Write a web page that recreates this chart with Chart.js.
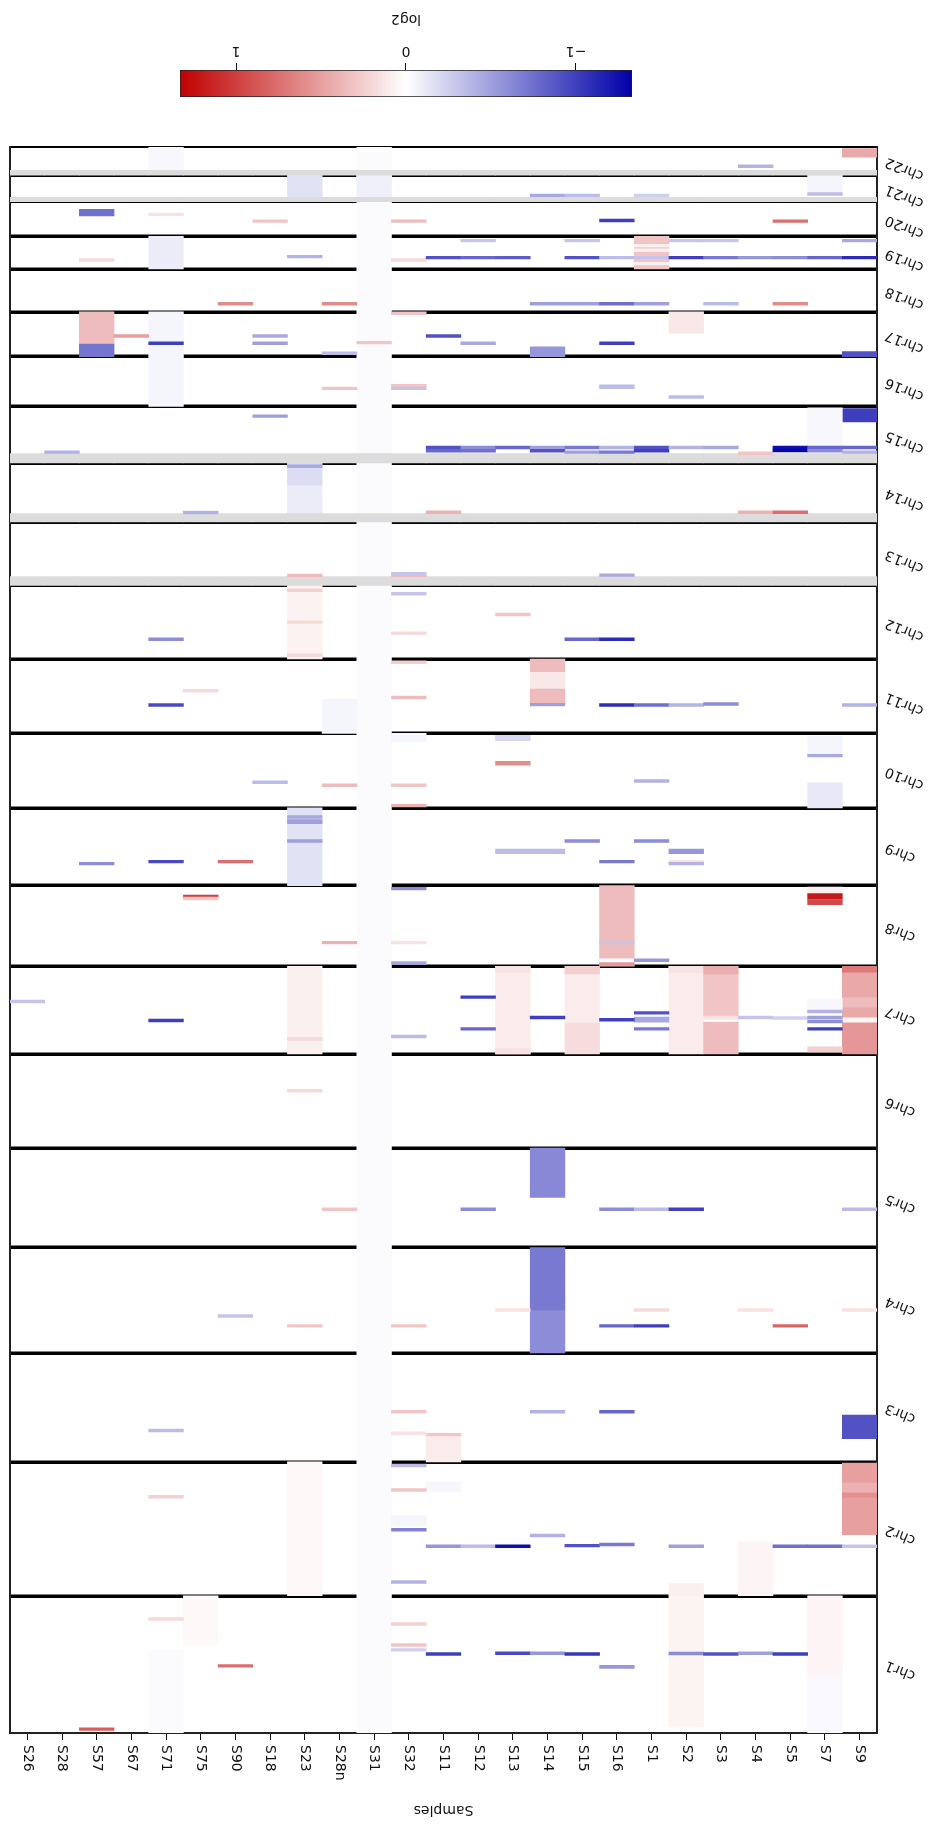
<!DOCTYPE html>
<html>
<head>
<meta charset="utf-8">
<script src="https://cdn.jsdelivr.net/npm/chart.js@4.4.1/dist/chart.umd.min.js"></script>
<style>
  html, body { margin: 0; padding: 0; background: #fff; }
  /* the reference figure is shown upside down, so the whole figure is turned */
  #figure { position: relative; width: 937px; height: 1824px; transform: rotate(180deg); background: #fff; }
  #heatmap { position: absolute; left: 0; top: 0; }
  #colorbar { position: absolute; left: 0; top: 1700px; }
</style>
</head>
<body>
<div id="figure">
  <canvas id="heatmap" width="937" height="1700"></canvas>
  <canvas id="colorbar" width="937" height="124"></canvas>
</div>
<script>
const samples = ["S26", "S28", "S57", "S67", "S71", "S75", "S90", "S18", "S23", "S28n", "S31", "S32",
  "S11", "S12", "S13", "S14", "S15", "S16", "S1", "S2", "S3", "S4", "S5", "S7", "S9"];

const chromosomes = ["chr1", "chr2", "chr3", "chr4", "chr5", "chr6", "chr7", "chr8", "chr9", "chr10", "chr11",
  "chr12", "chr13", "chr14", "chr15", "chr16", "chr17", "chr18", "chr19", "chr20", "chr21", "chr22"];

const chromLengthsMb = [249.3, 243.2, 198.0, 191.2, 180.9, 171.1, 159.1, 146.4, 141.2, 135.5, 135.0,
  133.9, 115.2, 107.3, 102.5, 90.4, 81.2, 78.1, 59.1, 63.0, 48.1, 51.3];

// faint genome-wide offset of a sample
const sampleBaseline = [["S31", -0.022]];

// broad segments: [sample, chromosome, start Mb, end Mb, log2]
const segments = [
  ["S2", 1, 11, 249.3, 0.06], ["S7", 1, 102, 249.3, 0.05], ["S7", 1, 0, 102, -0.03],
  ["S75", 1, 160, 249.3, 0.03], ["S71", 1, 0, 151, -0.02], ["S16", 1, 117.5, 123, -0.55],
  ["S23", 2, 0, 243.2, 0.04], ["S2", 2, 0, 22, 0.08], ["S4", 2, 0, 98, 0.05],
  ["S11", 2, 189, 207, -0.04], ["S32", 2, 127, 145, -0.05],
  ["S9", 2, 111, 179, 0.5], ["S9", 2, 179, 188, 0.58], ["S9", 2, 188, 206, 0.4], ["S9", 2, 206, 241, 0.5],
  ["S11", 3, 0, 47, 0.1], ["S11", 3, 47, 52, 0.3], ["S9", 3, 42, 85, -0.9],
  ["S14", 4, 0, 78, -0.6], ["S14", 4, 78, 191.2, -0.7],
  ["S14", 5, 91, 180.9, -0.62],
  ["S23", 7, 0, 159.1, 0.08], ["S13", 7, 0, 159.1, 0.1], ["S13", 7, 0, 10, 0.15], ["S13", 7, 148, 159.1, 0.15],
  ["S15", 7, 0, 57, 0.18], ["S15", 7, 57, 145, 0.1], ["S15", 7, 145, 159.1, 0.25],
  ["S2", 7, 0, 159.1, 0.1], ["S2", 7, 148, 159.1, 0.15],
  ["S3", 7, 0, 57.6, 0.35], ["S3", 7, 63, 70, 0.15], ["S3", 7, 70, 145, 0.3], ["S3", 7, 145, 159.1, 0.42],
  ["S9", 7, 0, 57.6, 0.55], ["S9", 7, 57.6, 66.6, 0.05], ["S9", 7, 66.6, 84.8, 0.45], ["S9", 7, 84.8, 103, 0.35],
  ["S9", 7, 103, 148.4, 0.45], ["S9", 7, 148.4, 159.1, 0.7],
  ["S1", 7, 57.6, 66.6, -0.45], ["S7", 7, 3.6, 12.7, 0.25], ["S7", 7, 80, 100, -0.04],
  ["S16", 8, 0, 146.4, 0.35], ["S16", 8, 1.5, 6, 0.55],
  ["S7", 8, 133, 144, 0.08], ["S7", 8, 122, 132, 1.2], ["S7", 8, 112, 121, 0.95],
  ["S23", 9, 0, 141.2, -0.15], ["S23", 9, 112.6, 119.9, -0.5],
  ["S13", 9, 58.1, 66.6, -0.35], ["S14", 9, 58.1, 66.6, -0.35], ["S2", 9, 58.1, 66.6, -0.55],
  ["S13", 10, 122, 132, -0.2], ["S13", 10, 77.5, 84.8, 0.6],
  ["S7", 10, 0, 45.4, -0.12], ["S7", 10, 96, 130, -0.05], ["S32", 10, 120, 135.5, -0.05],
  ["S14", 11, 111, 135, 0.35], ["S14", 11, 80.5, 111, 0.12], ["S14", 11, 54.5, 80.5, 0.35], ["S14", 11, 49.6, 54.5, -0.5],
  ["S28n", 11, 0, 62, -0.05],
  ["S23", 12, 0, 133.9, 0.07],
  ["S23", 14, 14, 67, -0.1], ["S23", 14, 67, 107.3, -0.18],
  ["S9", 15, 74.5, 98.6, -1.0], ["S7", 15, 29, 100, -0.04],
  ["S71", 16, 0, 90.4, -0.05], ["S16", 16, 32, 39.4, -0.35],
  ["S71", 17, 0, 81.2, -0.05], ["S57", 17, 23, 81.2, 0.35], ["S57", 17, 0, 23, -0.72],
  ["S14", 17, 0, 18, -0.55], ["S2", 17, 42, 81.2, 0.12], ["S9", 17, 0, 9, -0.9],
  ["S71", 19, 0, 59.1, -0.1], ["S1", 19, 0, 59.1, 0.3],
  ["S57", 20, 37, 49, -0.75],
  ["S23", 21, 9, 48.1, -0.15], ["S31", 21, 9, 48.1, -0.08], ["S7", 21, 17, 48.1, -0.05],
  ["S71", 22, 10, 51.3, -0.04], ["S9", 22, 33, 48.5, 0.45]
];

// focal events: [sample, chromosome, position Mb, log2]
const focal = [
  ["S57", 1, 7, 0.85], ["S71", 1, 207, 0.2], ["S90", 1, 122, 0.75], ["S32", 1, 198, 0.25], ["S32", 1, 160, 0.3],
  ["S32", 1, 151, -0.25], ["S11", 1, 143.5, -1.0], ["S13", 1, 145, -0.95], ["S14", 1, 145, -0.55],
  ["S15", 1, 143.5, -1.05], ["S2", 1, 144.5, -0.6], ["S3", 1, 143.5, -0.9], ["S4", 1, 145, -0.5], ["S5", 1, 143.5, -1.0],
  ["S71", 2, 180, 0.25], ["S32", 2, 236.7, -0.35], ["S32", 2, 192, 0.3], ["S32", 2, 120, -0.65], ["S32", 2, 25, -0.4],
  ["S11", 2, 90, -0.55], ["S12", 2, 90, -0.35], ["S13", 2, 90, -1.25], ["S14", 2, 109.5, -0.4], ["S15", 2, 91, -0.9],
  ["S16", 2, 93, -0.7], ["S2", 2, 90, -0.5], ["S5", 2, 90, -0.75], ["S7", 2, 90, -0.75], ["S9", 2, 90, -0.3],
  ["S71", 3, 57, -0.35], ["S32", 3, 91, 0.3], ["S32", 3, 52, 0.15], ["S14", 3, 91, -0.4], ["S16", 3, 91, -0.8],
  ["S90", 4, 67, -0.3], ["S23", 4, 49, 0.3], ["S32", 4, 49, 0.3], ["S13", 4, 78, 0.15], ["S16", 4, 49, -0.8],
  ["S1", 4, 49, -1.0], ["S1", 4, 78, 0.2], ["S4", 4, 78, 0.15], ["S5", 4, 49, 0.8], ["S9", 4, 78, 0.15],
  ["S28n", 5, 69.6, 0.3], ["S12", 5, 69.6, -0.6], ["S16", 5, 69.6, -0.6], ["S1", 5, 69.6, -0.35],
  ["S2", 5, 69.6, -1.0], ["S9", 5, 69.6, -0.35],
  ["S23", 6, 104, 0.2],
  ["S26", 7, 95, -0.3], ["S71", 7, 60.5, -1.0], ["S32", 7, 31.5, -0.35], ["S12", 7, 103, -1.0], ["S12", 7, 45.4, -0.8],
  ["S14", 7, 66, -1.0], ["S16", 7, 61.8, -1.0], ["S1", 7, 74.5, -0.9], ["S1", 7, 45.4, -0.7], ["S4", 7, 66, -0.3],
  ["S5", 7, 65, -0.25], ["S7", 7, 76.9, -0.4], ["S7", 7, 66, -0.5], ["S7", 7, 58.7, -0.6], ["S7", 7, 45.4, -1.0],
  ["S23", 7, 27, 0.2],
  ["S75", 8, 127, 1.0], ["S75", 8, 123, 0.3], ["S28n", 8, 43, 0.4], ["S32", 8, 141, -0.6], ["S32", 8, 43, 0.15],
  ["S32", 8, 6, -0.45], ["S16", 8, 43, -0.3], ["S16", 8, 11, 0], ["S1", 8, 11, -0.55],
  ["S57", 9, 40, -0.6], ["S71", 9, 43.6, -0.95], ["S90", 9, 43.6, 0.75], ["S23", 9, 124.8, -0.45], ["S23", 9, 81.1, -0.5],
  ["S15", 9, 81.1, -0.6], ["S16", 9, 43.6, -0.7], ["S1", 9, 81.1, -0.6], ["S2", 9, 43.6, 0.15], ["S2", 9, 40, -0.4],
  ["S18", 10, 46.6, -0.35], ["S28n", 10, 41.2, 0.35], ["S32", 10, 41.2, 0.3], ["S32", 10, 4.2, 0.4],
  ["S1", 10, 49, -0.4], ["S7", 10, 95, -0.45],
  ["S71", 11, 51.5, -0.95], ["S75", 11, 77.5, 0.2], ["S32", 11, 65, 0.35], ["S32", 11, 129, 0.25],
  ["S16", 11, 51.5, -1.1], ["S1", 11, 51.5, -0.75], ["S2", 11, 51.5, -0.4], ["S3", 11, 53.2, -0.6], ["S9", 11, 51.5, -0.4],
  ["S71", 12, 35.8, -0.6], ["S23", 12, 67, 0.2], ["S23", 12, 7, 0.2], ["S23", 12, 125, 0.25], ["S32", 12, 47, 0.2],
  ["S32", 12, 118.6, -0.3], ["S13", 12, 81, 0.3], ["S15", 12, 35.8, -0.8], ["S16", 12, 35.8, -1.1],
  ["S23", 13, 18, 0.35], ["S32", 13, 18, 0.35], ["S32", 13, 21, -0.3], ["S16", 13, 18.5, -0.45],
  ["S75", 14, 17, -0.4], ["S23", 14, 101, -0.45], ["S11", 14, 17.5, 0.4], ["S4", 14, 17.5, 0.4], ["S5", 14, 17.5, 0.75],
  ["S28", 15, 19.4, -0.4], ["S18", 15, 84.8, -0.5], ["S11", 15, 27.8, -0.9], ["S11", 15, 21.8, -0.8],
  ["S12", 15, 27.8, -0.6], ["S12", 15, 21.8, -0.75], ["S13", 15, 27.8, -0.8], ["S14", 15, 27.8, -0.5],
  ["S14", 15, 21.8, -0.9], ["S15", 15, 27.8, -0.7], ["S15", 15, 19.4, -0.5], ["S16", 15, 27.8, -0.4],
  ["S16", 15, 19.4, -0.7], ["S1", 15, 27.8, -0.9], ["S1", 15, 21.8, -1.0], ["S2", 15, 27.8, -0.4],
  ["S3", 15, 27.8, -0.45], ["S4", 15, 17.5, 0.3], ["S5", 15, 27.8, -1.25], ["S5", 15, 22.5, -1.3],
  ["S7", 15, 27.8, -0.8], ["S7", 15, 21.8, -0.6], ["S9", 15, 27.8, -0.8], ["S9", 15, 19.4, -0.4],
  ["S28n", 16, 32.7, 0.3], ["S32", 16, 37.5, 0.3], ["S32", 16, 32.7, -0.3], ["S2", 16, 17, -0.35],
  ["S67", 17, 37.5, 0.5], ["S71", 17, 24.2, -1.0], ["S18", 17, 37.5, -0.45], ["S18", 17, 24.2, -0.5],
  ["S28n", 17, 6, -0.35], ["S31", 17, 25.4, 0.3], ["S32", 17, 78.7, 0.3], ["S11", 17, 37.5, -0.9],
  ["S12", 17, 24.2, -0.45], ["S16", 17, 24.2, -1.0],
  ["S90", 18, 15, 0.6], ["S28n", 18, 15, 0.6], ["S14", 18, 15, -0.5], ["S15", 18, 15, -0.5],
  ["S16", 18, 15, -0.75], ["S1", 18, 15, -0.5], ["S3", 18, 15, -0.35], ["S5", 18, 15, 0.6],
  ["S57", 19, 16.3, 0.2], ["S23", 19, 22.4, -0.4], ["S32", 19, 16.3, 0.2], ["S11", 19, 20.6, -0.9],
  ["S12", 19, 51.4, -0.3], ["S12", 19, 20.6, -0.8], ["S13", 19, 20.6, -0.85], ["S15", 19, 51.4, -0.3],
  ["S15", 19, 20.6, -0.9], ["S16", 19, 20.6, -0.35], ["S1", 19, 20.6, -0.3], ["S1", 19, 42.4, 0.08],
  ["S1", 19, 34, 0.08], ["S1", 19, 9.7, 0.08], ["S2", 19, 51.4, -0.3], ["S2", 19, 20.6, -1.0],
  ["S3", 19, 51.4, -0.3], ["S3", 19, 20.6, -0.7], ["S4", 19, 20.6, -0.55], ["S5", 19, 20.6, -0.6],
  ["S7", 19, 20.6, -0.8], ["S9", 19, 51.4, -0.45], ["S9", 19, 20.6, -1.1],
  ["S71", 20, 40, 0.15], ["S18", 20, 27.8, 0.3], ["S32", 20, 27.8, 0.35], ["S16", 20, 29, -1.0], ["S5", 20, 27.8, 0.75],
  ["S14", 21, 11.5, -0.45], ["S15", 21, 11.5, -0.35], ["S1", 21, 11.5, -0.25], ["S7", 21, 14, -0.35],
  ["S4", 22, 16.3, -0.4]
];

// short arms without probes: [chromosome, end Mb]
const noDataArms = [[13, 16], [14, 15], [15, 17], [21, 8], [22, 9]];

const colorbarTicks = [-1, 0, 1];
const VMAX = 1.33;
const FOCAL_MB = 5;

const FONT = { family: "DejaVu Sans", size: 14 };
Chart.defaults.color = "#111";
Chart.defaults.font.family = FONT.family;
Chart.defaults.font.size = FONT.size;

const offsets = [];
let total = 0;
chromLengthsMb.forEach((len) => { offsets.push(total); total += len; });
const centers = chromLengthsMb.map((len, i) => offsets[i] + len / 2);
const boundaries = offsets.concat([total]);

function gpos(chr, mb) {
  return offsets[chr - 1] + mb;
}

function log2Color(v) {
  if (v === null || v === undefined) return "#dcdcdc";
  const t = Math.max(-1, Math.min(1, v / VMAX));
  let r, g, b;
  if (t >= 0) {
    r = 255 - 63 * t; g = 255 * (1 - t); b = 255 * (1 - t);
  } else {
    const s = -t;
    r = 255 * (1 - s); g = 255 * (1 - s); b = 255 - 87 * s;
  }
  return `rgb(${Math.round(r)},${Math.round(g)},${Math.round(b)})`;
}

const cellColor = (ctx) => log2Color(ctx.raw ? ctx.raw.v : 0);

const focalData = focal.map(([s, c, p, v]) => ({ x: s, y: [gpos(c, p - FOCAL_MB / 2), gpos(c, p + FOCAL_MB / 2)], v }));
const noData = noDataArms.flatMap(([c, end]) => samples.map((s) => ({ x: s, y: [gpos(c, 0), gpos(c, end)], v: null })));
const segData = segments.map(([s, c, a, b, v]) => ({ x: s, y: [gpos(c, a), gpos(c, b)], v }));
const baseData = sampleBaseline.map(([s, v]) => ({ x: s, y: [0, total], v }));

function cellSet(label, data) {
  return { label, data, backgroundColor: cellColor, borderWidth: 0, grouped: false, barPercentage: 1, categoryPercentage: 1 };
}

new Chart(document.getElementById("heatmap"), {
  type: "bar",
  data: {
    labels: samples,
    // first dataset is painted last (on top)
    datasets: [
      cellSet("focal", focalData),
      cellSet("no data", noData),
      cellSet("segments", segData),
      cellSet("baseline", baseData),
    ],
  },
  options: {
    responsive: false,
    animation: false,
    layout: { padding: { left: 0, right: 10, top: 0, bottom: 23 } },
    plugins: { legend: { display: false }, tooltip: { enabled: false } },
    scales: {
      x: {
        type: "category",
        position: "top",
        reverse: true,
        offset: true,
        z: 1,
        grid: { display: true, offset: false, drawOnChartArea: false, drawTicks: true, tickLength: 7, color: "#111", lineWidth: 1 },
        border: { display: true, color: "#222", width: 2 },
        ticks: { minRotation: 90, maxRotation: 90, padding: 5, labelOffset: 16.8, autoSkip: false, font: FONT },
        title: { display: true, text: "Samples", font: FONT, padding: { top: 6, bottom: 0 } },
        afterFit: (s) => { s.height = 91; },
      },
      y: {
        type: "linear",
        position: "left",
        min: 0,
        max: total,
        reverse: true,
        z: 1,
        grid: { display: false, drawTicks: false },
        border: { display: true, color: "#222", width: 2 },
        afterBuildTicks: (s) => { s.ticks = centers.map((v) => ({ value: v })); },
        ticks: { callback: (v, i) => chromosomes[i], minRotation: -22, padding: 9, autoSkip: false, font: FONT },
        afterFit: (s) => { s.width = 60; },
      },
      y2: {
        type: "linear",
        position: "right",
        min: 0,
        max: total,
        reverse: true,
        z: 1,
        grid: {
          display: true,
          drawOnChartArea: true,
          drawTicks: false,
          color: "#000",
          lineWidth: (ctx) => {
            const v = ctx.tick ? ctx.tick.value : 0;
            return v === 0 || Math.abs(v - total) < 1e-6 ? 2 : 3.5;
          },
        },
        border: { display: true, color: "#222", width: 2 },
        ticks: { display: false },
        afterBuildTicks: (s) => { s.ticks = boundaries.map((v) => ({ value: v })); },
        afterFit: (s) => { s.width = 0; },
      },
    },
  },
});

new Chart(document.getElementById("colorbar"), {
  type: "bar",
  data: {
    labels: ["log2"],
    datasets: [{
      data: [[-VMAX, VMAX]],
      backgroundColor: (ctx) => {
        const ca = ctx.chart.chartArea;
        if (!ca) return "#fff";
        const g = ctx.chart.ctx.createLinearGradient(ca.left, 0, ca.right, 0);
        g.addColorStop(0, log2Color(-VMAX));
        g.addColorStop(0.5, log2Color(0));
        g.addColorStop(1, log2Color(VMAX));
        return g;
      },
      borderColor: "#222",
      borderWidth: 1,
      borderSkipped: false,
      barPercentage: 1,
      categoryPercentage: 1,
    }],
  },
  options: {
    indexAxis: "y",
    responsive: false,
    animation: false,
    layout: { padding: { left: 305, right: 180, top: 27, bottom: 0 } },
    plugins: { legend: { display: false }, tooltip: { enabled: false } },
    scales: {
      x: {
        type: "linear",
        position: "bottom",
        min: -VMAX,
        max: VMAX,
        afterBuildTicks: (s) => { s.ticks = colorbarTicks.map((v) => ({ value: v })); },
        grid: { display: true, drawOnChartArea: false, drawTicks: true, tickLength: 7, color: "#111", lineWidth: 1 },
        border: { display: false },
        ticks: { callback: (v) => (v < 0 ? "\u2212" + Math.abs(v) : String(v)), padding: 4, font: FONT },
        title: { display: true, text: "log2", font: FONT, padding: { top: 4, bottom: 10 } },
        afterFit: (s) => { s.height = 70; },
      },
      y: { display: false },
    },
  },
});
</script>
</body>
</html>
